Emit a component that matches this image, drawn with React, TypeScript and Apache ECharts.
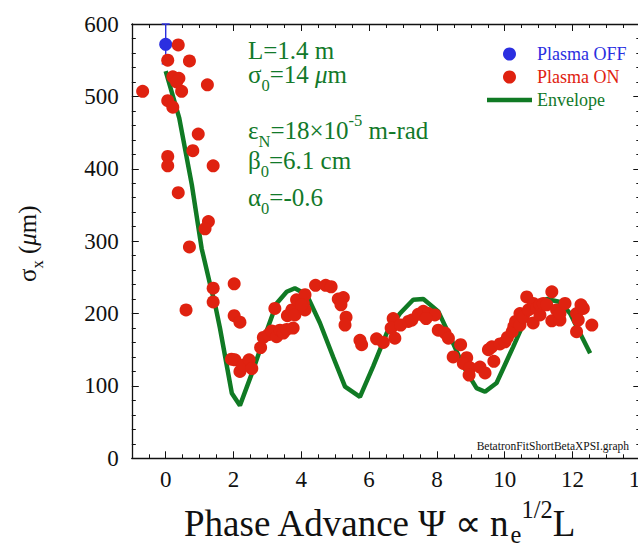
import React, { useEffect, useRef } from 'react';
import * as echarts from 'echarts';

// ---------- data ----------
const xRange = [-1, 14];
const yRange = [0, 600];

const plasmaOff: number[][] = [[0, 572]];
const plasmaOffError: number[][] = [[0, 545, 600]]; // x, low, high

const plasmaOn: number[][] = [
  [-0.68, 507],
  [0.06, 550], [0.37, 571], [0.7, 549],
  [0.21, 527], [0.39, 525], [0.32, 520], [0.47, 507], [1.23, 516],
  [0.06, 494], [0.21, 485],
  [0.96, 448], [0.8, 425], [0.06, 417], [0.06, 404], [1.4, 404],
  [0.37, 367], [1.26, 327], [1.16, 317], [0.7, 292],
  [1.4, 235], [2.02, 241], [1.4, 216], [0.6, 205], [2.02, 197], [2.19, 188],
  [1.94, 137], [2.04, 136], [2.19, 120], [2.29, 129], [2.46, 136], [2.54, 124],
  [2.8, 153], [2.88, 167], [3.03, 171], [3.13, 176], [3.22, 207], [3.27, 168],
  [3.37, 177], [3.47, 173], [3.57, 178], [3.59, 197], [3.76, 180], [3.72, 205],
  [3.86, 219], [3.81, 198], [4.06, 214], [4.11, 226], [4.11, 205], [4.01, 212],
  [4.42, 239], [4.72, 239], [4.88, 237],
  [5.09, 220], [5.24, 222], [5.17, 212], [5.32, 195], [5.29, 184],
  [5.73, 163], [5.78, 157], [6.22, 165], [6.42, 160],
  [6.71, 193], [6.65, 180], [6.76, 166], [6.93, 184], [7.16, 189], [7.26, 191],
  [7.45, 199], [7.6, 203], [7.75, 200], [7.94, 198], [7.68, 193],
  [8.04, 177], [8.24, 173], [8.34, 166], [8.48, 140], [8.7, 157], [8.88, 139],
  [8.78, 131], [8.98, 125], [8.95, 115], [9.27, 126], [9.42, 118],
  [9.52, 150], [9.62, 154], [9.68, 134], [9.86, 158], [10.01, 161], [10.08, 167],
  [10.22, 175], [10.27, 182], [10.32, 189], [10.45, 184], [10.45, 200], [10.55, 195],
  [10.65, 223], [10.7, 205], [10.84, 214], [10.84, 187], [10.94, 207], [11.04, 198],
  [11.04, 212], [11.14, 214], [11.24, 212], [11.39, 230], [11.39, 190], [11.53, 205],
  [11.63, 191], [11.63, 200], [11.78, 214],
  [12.12, 200], [12.17, 191], [12.32, 207], [12.25, 212], [12.12, 175], [12.57, 184],
];

const envelope: number[][] = [
  [0, 535], [0.4, 470], [0.77, 378], [1.06, 290], [1.31, 240], [1.45, 214],
  [1.6, 180], [1.95, 90], [2.19, 73], [2.54, 117], [2.88, 163], [3.27, 214],
  [3.57, 230], [3.81, 235], [4.16, 226], [4.55, 187], [4.94, 140], [5.29, 99],
  [5.73, 85], [6.12, 127], [6.52, 173], [6.91, 200], [7.3, 219], [7.6, 220],
  [8.04, 203], [8.44, 163], [8.78, 127], [9.17, 97], [9.42, 92], [9.76, 104],
  [10.25, 154], [10.65, 196], [10.94, 214], [11.24, 220], [11.63, 216],
  [11.93, 200], [12.52, 145],
];

type Seg = { t: string; k?: 'sub' | 'sup'; i?: boolean };
const annotationRows: Seg[][] = [
  [{ t: 'L=1.4 m' }],
  [{ t: 'σ' }, { t: '0', k: 'sub' }, { t: '=14 ' }, { t: 'μ', i: true }, { t: 'm' }],
  [{ t: 'ε' }, { t: 'N', k: 'sub' }, { t: '=18×10' }, { t: '-5', k: 'sup' }, { t: ' m-rad' }],
  [{ t: 'β' }, { t: '0', k: 'sub' }, { t: '=6.1 cm' }],
  [{ t: 'α' }, { t: '0', k: 'sub' }, { t: '=-0.6' }],
];
const xTitle: Seg[] = [{ t: 'Phase Advance Ψ ∝ n' }, { t: 'e', k: 'sub' }, { t: '1/2', k: 'sup' }, { t: 'L' }];
const yTitle: Seg[] = [{ t: 'σ' }, { t: 'x', k: 'sub' }, { t: ' (' }, { t: 'μ', i: true }, { t: 'm)' }];
const fileTag = 'BetatronFitShortBetaXPSI.graph';

// ---------- styles ----------
const FONT = 'Liberation Serif, Times New Roman, serif';
const GREEN = '#12792a';
const LINE_GREEN = '#107a24';
const RED = '#df2210';
const BLUE = '#2b2fe0';

let measureCtx: CanvasRenderingContext2D | null = null;
function measure(text: string, size: number, italic?: boolean): number {
  if (!measureCtx) measureCtx = document.createElement('canvas').getContext('2d');
  if (!measureCtx) return text.length * size * 0.5;
  measureCtx.font = `${italic ? 'italic ' : ''}${size}px ${FONT}`;
  return measureCtx.measureText(text).width;
}

function layoutRow(segs: Seg[], x0: number, yc: number, size: number, color: string, subDy = 0.42, supDy = -0.4) {
  const out: any[] = [];
  let x = x0;
  for (const s of segs) {
    const fs = s.k ? size * 0.66 : size;
    const dy = s.k === 'sub' ? size * subDy : s.k === 'sup' ? size * supDy : 0;
    out.push({
      type: 'text',
      x,
      y: yc + dy,
      silent: true,
      style: {
        text: s.t,
        fill: color,
        fontSize: fs,
        fontFamily: FONT,
        fontStyle: s.i ? 'italic' : 'normal',
        align: 'left',
        verticalAlign: 'middle',
      },
    });
    x += measure(s.t, fs, s.i);
  }
  return out;
}

export default function App() {
  const ref = useRef<HTMLDivElement>(null);

  useEffect(() => {
    if (!ref.current) return;
    const chart = echarts.init(ref.current, undefined, { renderer: 'svg' });

    const annRowY = [50, 74.5, 130.5, 160.5, 197.5];
    const graphics: any[] = [];
    annotationRows.forEach((row, i) => {
      graphics.push(...layoutRow(row, 248, annRowY[i], 25, GREEN));
    });
    graphics.push(...layoutRow(xTitle, 184, 523, 37, '#111', 0.3, -0.36));
    graphics.push({
      type: 'group',
      x: 27,
      y: 282,
      rotation: Math.PI / 2,
      children: layoutRow(yTitle, 0, 0, 25, '#111', 0.4, -0.4),
    });
    graphics.push({
      type: 'text',
      x: 629,
      y: 446,
      silent: true,
      style: { text: fileTag, fill: '#111', fontSize: 11.5, fontFamily: FONT, align: 'right', verticalAlign: 'middle' },
    });

    const axisCommon = {
      type: 'value' as const,
      axisLine: { show: true, onZero: false, lineStyle: { color: '#111', width: 1.3 } },
      splitLine: { show: false },
    };

    chart.setOption({
      animation: false,
      backgroundColor: '#fff',
      grid: { left: 131.8, top: 24, width: 508.5, height: 434.3, containLabel: false },
      legend: {
        orient: 'vertical',
        left: 487,
        top: 45,
        padding: 0,
        itemWidth: 45,
        itemHeight: 13,
        itemGap: 5,
        selectedMode: false,
        textStyle: { fontFamily: FONT, fontSize: 18 },
        data: [
          { name: 'Plasma OFF', icon: 'circle', textStyle: { color: BLUE } },
          { name: 'Plasma ON', icon: 'circle', textStyle: { color: RED } },
          {
            name: 'Envelope',
            icon: 'path://M0,0L90,0L90,9L0,9Z',
            itemStyle: { color: LINE_GREEN },
            textStyle: { color: GREEN },
          },
        ],
      },
      xAxis: [
        {
          ...axisCommon,
          position: 'bottom',
          min: xRange[0],
          max: xRange[1],
          minInterval: 2,
          maxInterval: 2,
          axisTick: { show: true, inside: true, length: 7, lineStyle: { color: '#111' } },
          minorTick: { show: true, splitNumber: 4, length: 4, lineStyle: { color: '#111' } },
          axisLabel: {
            show: true,
            margin: 10,
            fontFamily: FONT,
            fontSize: 23,
            color: '#111',
            formatter: (v: number) => (v === xRange[0] ? '' : String(v)),
          },
        },
        {
          ...axisCommon,
          position: 'top',
          min: xRange[0],
          max: xRange[1],
          minInterval: 2,
          maxInterval: 2,
          axisTick: { show: true, inside: true, length: 7, lineStyle: { color: '#111' } },
          minorTick: { show: true, splitNumber: 4, length: 4, lineStyle: { color: '#111' } },
          axisLabel: { show: false },
        },
      ],
      yAxis: [
        {
          ...axisCommon,
          position: 'left',
          min: yRange[0],
          max: yRange[1],
          interval: 100,
          axisTick: { show: true, inside: true, length: 7, lineStyle: { color: '#111' } },
          minorTick: { show: true, splitNumber: 5, length: 4, lineStyle: { color: '#111' } },
          axisLabel: { show: true, margin: 13, fontFamily: FONT, fontSize: 23, color: '#111' },
        },
        {
          ...axisCommon,
          position: 'right',
          min: yRange[0],
          max: yRange[1],
          interval: 100,
          axisTick: { show: true, inside: true, length: 7, lineStyle: { color: '#111' } },
          minorTick: { show: true, splitNumber: 5, length: 4, lineStyle: { color: '#111' } },
          axisLabel: { show: false },
        },
      ],
      series: [
        {
          name: 'Envelope',
          type: 'line',
          data: envelope,
          symbol: 'none',
          smooth: false,
          lineStyle: { color: LINE_GREEN, width: 4.5 },
          itemStyle: { color: LINE_GREEN },
          z: 2,
        },
        {
          type: 'custom',
          data: plasmaOffError,
          encode: { x: 0, y: [1, 2] },
          z: 3,
          renderItem: (_p: any, api: any) => {
            const x = api.value(0);
            const lo = api.coord([x, api.value(1)]);
            const hi = api.coord([x, api.value(2)]);
            const st = { stroke: BLUE, lineWidth: 1.4 };
            return {
              type: 'group',
              children: [
                { type: 'line', shape: { x1: lo[0], y1: lo[1], x2: hi[0], y2: hi[1] }, style: st },
                { type: 'line', shape: { x1: hi[0] - 4, y1: hi[1], x2: hi[0] + 4, y2: hi[1] }, style: st },
                { type: 'line', shape: { x1: lo[0] - 4, y1: lo[1], x2: lo[0] + 4, y2: lo[1] }, style: st },
              ],
            };
          },
        },
        {
          name: 'Plasma OFF',
          type: 'scatter',
          data: plasmaOff,
          symbol: 'circle',
          symbolSize: 13,
          itemStyle: { color: BLUE, opacity: 1 },
          z: 4,
        },
        {
          name: 'Plasma ON',
          type: 'scatter',
          data: plasmaOn,
          symbol: 'circle',
          symbolSize: 13,
          itemStyle: { color: RED, opacity: 1 },
          z: 5,
        },
      ],
      graphic: graphics,
    });

    return () => chart.dispose();
  }, []);

  return (
    <div
      ref={ref}
      style={{ position: 'fixed', left: 0, top: 0, width: 700, height: 545, background: '#fff' }}
    />
  );
}
